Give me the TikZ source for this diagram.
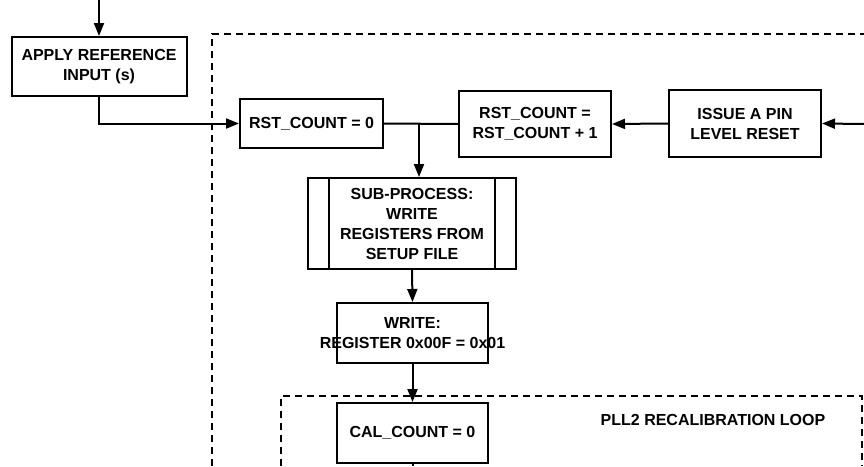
\documentclass[tikz,border=0pt]{standalone}
\usepackage{fontspec}
\setmainfont{Liberation Sans}
\usetikzlibrary{arrows.meta}

\begin{document}
\begin{tikzpicture}[x=1pt, y=-1pt, >={Triangle[length=13pt,width=10pt]},
    box/.style={draw, line width=2pt, align=center, inner sep=0pt,
        font=\fontsize{16}{20}\selectfont\bfseries},
    flow/.style={line width=2pt},
    frame/.style={line width=2pt, dash pattern=on 7pt off 5pt}]
    \useasboundingbox (0,0) rectangle (864,466);

    % Boxes
    \node[box, minimum width=175, minimum height=59] (apply) at (99,66.5) {APPLY REFERENCE\\INPUT (s)};
    \node[box, minimum width=143, minimum height=49] (rstzero) at (311.5,123.5) {RST\_COUNT = 0};
    \node[box, minimum width=152, minimum height=66] (rstinc) at (535,124) {RST\_COUNT =\\RST\_COUNT + 1};
    \node[box, minimum width=152, minimum height=67] (pinreset) at (745,123.5) {ISSUE A PIN\\LEVEL RESET};
    \node[box, minimum width=208, minimum height=91] (subproc) at (412,223.5) {SUB-PROCESS:\\WRITE\\REGISTERS FROM\\SETUP FILE};
    \node[box, minimum width=151, minimum height=60] (writereg) at (412.5,333) {WRITE:\\\makebox[0pt]{REGISTER 0x00F = 0x01}};
    \node[box, minimum width=151, minimum height=60] (calcount) at (412.5,433) {CAL\_COUNT = 0};

    % Side bars of the sub-process box
    \draw[flow] ([xshift=22]subproc.north west) -- ([xshift=22]subproc.south west);
    \draw[flow] ([xshift=-22]subproc.north east) -- ([xshift=-22]subproc.south east);

    % Dashed frames (cut by the page edges)
    \draw[frame] (212,466) -- (212,34) -- (864,34);
    \draw[frame] (281,466) -- (281,396) -- (862,396) -- (862,466);
    \node[font=\fontsize{16}{20}\selectfont\bfseries] (looplabel) at (713,420) {PLL2 RECALIBRATION LOOP};

    % Free ends
    \coordinate (intop) at (99,0);
    \coordinate (inright) at (864,124);
    \coordinate (branch) at (419,124);
    \coordinate (outbottom) at (412.5,466);

    % Connectors
    \draw[flow, ->] (intop) -- (apply.north);
    \draw[flow, ->] (apply.south) |- (rstzero.west);
    \draw[flow] (rstzero.east) -- (rstinc.west);
    \draw[flow, ->] (branch) -- (branch |- subproc.north);
    \draw[flow, ->] (pinreset.west) -- (rstinc.east);
    \draw[flow, ->] (inright) -- (pinreset.east);
    \draw[flow, ->] (subproc.south) -- (writereg.north);
    \draw[flow, ->] (writereg.south) -- (calcount.north);
    \draw[flow] (calcount.south) -- (outbottom);
\end{tikzpicture}
\end{document}
